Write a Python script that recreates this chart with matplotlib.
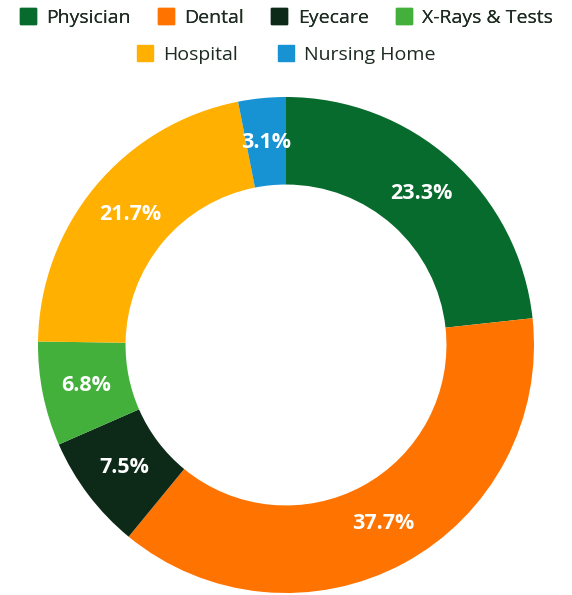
import matplotlib
matplotlib.use("Agg")
import matplotlib.pyplot as plt
from matplotlib.lines import Line2D
import numpy as np

categories = ["Physician", "Dental", "Eyecare", "X-Rays & Tests", "Hospital", "Nursing Home"]
values = [23.3, 37.7, 7.5, 6.8, 21.7, 3.1]
colors = ["#076b2d", "#ff7300", "#0d2a19", "#43b03c", "#ffb000", "#1792d2"]

plt.rcParams['font.family'] = ['Open Sans', 'DejaVu Sans']

W, H = 572, 595
fig = plt.figure(figsize=(W/100, H/100), dpi=100)
cx, cy, R = 286, 345, 248
ax = fig.add_axes([(cx-R)/W, (H-cy-R)/H, 2*R/W, 2*R/H])
ax.set_aspect('equal')
ax.axis('off')

wedges, _ = ax.pie(values, colors=colors, startangle=90, counterclock=False,
                   radius=1.0, wedgeprops=dict(width=0.353, linewidth=0))
ax.set_xlim(-1, 1)
ax.set_ylim(-1, 1)

for w, v in zip(wedges, values):
    ang = np.deg2rad((w.theta1 + w.theta2) / 2)
    r = 0.82
    ax.text(r*np.cos(ang), r*np.sin(ang), f"{v}%", ha='center', va='center',
            color='white', fontsize=15.5, fontweight='bold')

def handles(idx):
    return [Line2D([0], [0], marker='s', linestyle='none', markersize=12,
                   markerfacecolor=colors[i], markeredgecolor=colors[i]) for i in idx]

row1 = [0, 1, 2, 3]
row2 = [4, 5]
leg1 = fig.legend(handles(row1), [categories[i] for i in row1], loc='center',
                  bbox_to_anchor=(0.5, 1 - 18/H), ncol=4, frameon=False, fontsize=14,
                  handlelength=0.9, handletextpad=0.5, columnspacing=1.35, labelcolor='#1d2b22')
fig.add_artist(leg1)
leg2 = fig.legend(handles(row2), [categories[i] for i in row2], loc='center',
                  bbox_to_anchor=(0.5, 1 - 55/H), ncol=2, frameon=False, fontsize=14,
                  handlelength=0.9, handletextpad=0.5, columnspacing=2.0, labelcolor='#1d2b22')

fig.savefig("out.png", dpi=100, facecolor='white')
